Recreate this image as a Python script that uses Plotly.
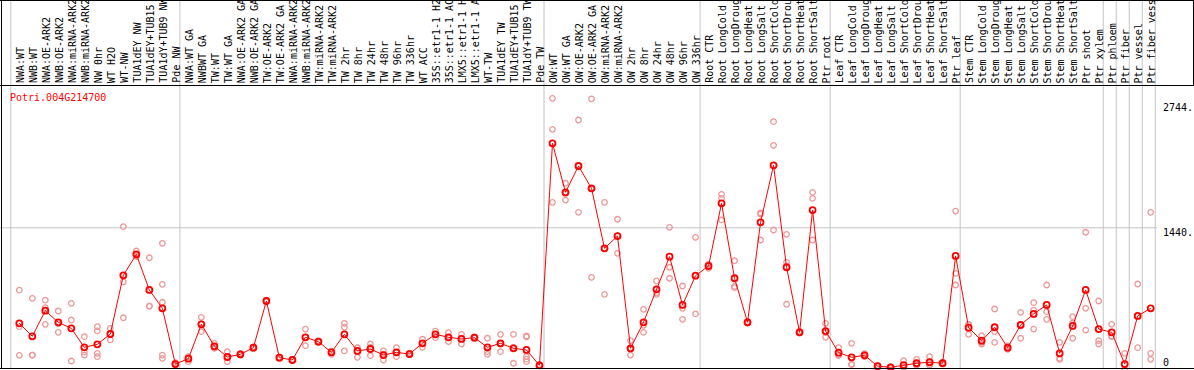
import plotly.graph_objects as go

gene_id = "Potri.004G214700"

categories = [
    "NWA:WT", "NWB:WT", "NWA:OE-ARK2", "NWB:OE-ARK2", "NWA:miRNA-ARK2", "NWB:miRNA-ARK2",
    "NW 0hr", "WT H2O", "WT-NW", "TUA1dEY NW", "TUA1dEY+TUB15 NW", "TUA1dY+TUB9 NW", "Pde NW",
    "NWA:WT GA", "NWBWT GA", "TW:WT", "TW:WT GA", "NWA:OE-ARK2 GA", "NWB:OE-ARK2 GA",
    "TW:OE-ARK2", "TW:OE-ARK2 GA", "NWA:miRNA-ARK2 GA", "NWB:miRNA-ARK2 GA", "TW:miRNA-ARK2",
    "TW:miRNA-ARK2 GA", "TW 2hr", "TW 8hr", "TW 24hr", "TW 48hr", "TW 96hr", "TW 336hr",
    "WT ACC", "35S::etr1-1 H2O", "35S::etr1-1 ACC", "LMX5::etr1-1 H2O", "LMX5::etr1-1 ACC",
    "WT-TW", "TUA1dEY TW", "TUA1dEY+TUB15 TW", "TUA1dY+TUB9 TW", "Pde TW",
    "OW:WT", "OW:WT GA", "OW:OE-ARK2", "OW:OE-ARK2 GA", "OW:miRNA-ARK2", "OW:miRNA-ARK2 GA",
    "OW 2hr", "OW 8hr", "OW 24hr", "OW 48hr", "OW 96hr", "OW 336hr",
    "Root CTR", "Root LongCold", "Root LongDrought", "Root LongHeat", "Root LongSalt",
    "Root ShortCold", "Root ShortDrought", "Root ShortHeat", "Root ShortSalt", "Ptr root",
    "Leaf CTR", "Leaf LongCold", "Leaf LongDrought", "Leaf LongHeat", "Leaf LongSalt",
    "Leaf ShortCold", "Leaf ShortDrought", "Leaf ShortHeat", "Leaf ShortSalt", "Ptr leaf",
    "Stem CTR", "Stem LongCold", "Stem LongDrought", "Stem LongHeat", "Stem LongSalt",
    "Stem ShortCold", "Stem ShortDrought", "Stem ShortHeat", "Stem ShortSalt", "Ptr shoot",
    "Ptr xylem", "Ptr phloem", "Ptr fiber", "Ptr vessel", "Ptr fiber vessel",
]

means = [
    477, 346, 604, 487, 426, 235, 265, 369, 961, 1172,
    813, 628, 66, 120, 467, 245, 137, 164, 231, 702,
    130, 107, 336, 292, 184, 366, 198, 218, 157, 184,
    167, 275, 366, 336, 319, 332, 235, 275, 225, 208,
    53, 2292, 1798, 2063, 1838, 1233, 1357, 225, 487, 820,
    1149, 662, 957, 1055, 1687, 931, 487, 1495, 2070, 1042,
    386, 1619, 399, 181, 134, 154, 45, 33, 56, 74,
    84, 74, 1156, 433, 302, 437, 231, 460, 571, 662,
    174, 450, 813, 419, 386, 66, 551, 628,
]

replicates = [
    [811, 443, 154], [729, 157, 155], [710, 635, 467], [601, 386, 474], [678, 510, 97],
    [342, 188, 157], [443, 400, 174, 140], [426, 309, 372], [1451, 896, 533], [1206, 1149, 1161],
    [1138, 650, 650], [1283, 870, 689, 157, 124], [80, 60, 58], [140, 90, 130], [537, 392, 472],
    [275, 225, 235], [191, 90, 130], [174, 160, 157], [240, 225, 228], [710, 700, 696],
    [135, 128, 127], [110, 105, 106], [419, 251, 338], [300, 285, 291], [164, 195, 193],
    [477, 437, 198], [231, 134, 229], [268, 150, 236], [198, 107, 166], [231, 140, 181],
    [175, 162, 164], [316, 235, 274], [399, 332, 367], [382, 292, 334], [366, 268, 323],
    [340, 330, 326], [326, 191, 164], [366, 191, 268], [366, 74, 235], [349, 340, 140, 115, 90],
    [60, 50, 48], [2746, 2433, 1697], [1889, 1720, 1785], [2527, 1596, 2066], [2741, 941, 1832],
    [1697, 769, 1233], [1526, 1183, 1362], [302, 157, 216], [618, 386, 457], [904, 769, 787],
    [1445, 1042, 931], [853, 628, 517], [1344, 571, 956], [1031, 1060, 1074], [1778, 1737, 1519],
    [1108, 836, 849], [495, 480, 486], [1579, 1317, 1589], [2510, 2272, 1418], [1374, 1092, 669],
    [398, 380, 380], [1798, 1737, 1317], [477, 336, 384], [231, 150, 162], [275, 66, 61],
    [170, 150, 142], [50, 42, 43], [38, 30, 31], [100, 35, 33], [114, 55, 53],
    [140, 60, 52], [85, 70, 67], [1609, 981, 863], [467, 366, 466], [352, 268, 286],
    [621, 393, 285], [250, 215, 228], [588, 326, 466], [685, 419, 609], [863, 594, 517],
    [285, 124, 113], [544, 326, 480], [1395, 628, 409], [702, 302, 268], [467, 342, 349],
    [174, 14, 10], [873, 231, 549], [1596, 174, 114],
]

group_last = [12, 40, 52, 62, 72, 83, 84, 85, 86, 87]
y_grid_value = 1440
y_labels = ["2744.", "1440.", "0"]

# ---------------- layout geometry ----------------
W, H = 1194, 370
TOP = 85
X_RANGE = [-1.484, 90.33]
Y_RANGE = [6, 2880]
PLOT_H = H - TOP


def py_to_paper(py):
    return (H - py) / PLOT_H


xs = list(range(len(categories)))

fig = go.Figure()

rep_x, rep_y = [], []
for i, vals in enumerate(replicates):
    for v in vals:
        rep_x.append(i)
        rep_y.append(v)

fig.add_trace(go.Scatter(
    x=rep_x, y=rep_y, mode="markers", cliponaxis=False, hoverinfo="skip",
    marker=dict(symbol="circle-open", size=5.5, color="rgb(238,152,152)",
                line=dict(width=1.3, color="rgb(238,152,152)")),
    showlegend=False,
))

fig.add_trace(go.Scatter(
    x=xs, y=means, mode="lines+markers", cliponaxis=False,
    line=dict(color="#ff0000", width=1),
    marker=dict(symbol="circle-open", size=6, color="#ff0000",
                line=dict(width=1.8, color="#ff0000")),
    showlegend=False,
))

shapes = []
grid_col = "#c4c4c4"
top_paper = py_to_paper(0.5)
bot_paper = py_to_paper(368.5)
for b in [-1] + group_last:
    shapes.append(dict(type="line", xref="x", yref="paper", x0=b + 0.35, x1=b + 0.35,
                       y0=bot_paper, y1=top_paper, line=dict(color=grid_col, width=1),
                       layer="below"))
shapes.append(dict(type="line", xref="paper", yref="y", x0=0, x1=1157 / W,
                   y0=y_grid_value, y1=y_grid_value, line=dict(color=grid_col, width=1),
                   layer="below"))
# frame lines
blk = dict(color="black", width=1)
shapes += [
    dict(type="line", xref="paper", yref="paper", x0=0, x1=1, y0=top_paper, y1=top_paper, line=blk),
    dict(type="line", xref="paper", yref="paper", x0=0, x1=1, y0=py_to_paper(85.5), y1=py_to_paper(85.5), line=blk),
    dict(type="line", xref="paper", yref="paper", x0=0, x1=1, y0=bot_paper, y1=bot_paper, line=blk),
    dict(type="line", xref="paper", yref="paper", x0=1.5 / W, x1=1.5 / W, y0=bot_paper, y1=top_paper, line=blk),
    dict(type="line", xref="paper", yref="paper", x0=1193.5 / W, x1=1193.5 / W,
         y0=py_to_paper(85.5), y1=top_paper, line=blk),
]

mono = "DejaVu Sans Mono"
annotations = []
for i, name in enumerate(categories):
    annotations.append(dict(
        x=i, xref="x", y=py_to_paper(84), yref="paper", text=name, textangle=-90,
        showarrow=False, xanchor="center", yanchor="bottom", borderpad=0, xshift=0.8,
        font=dict(family=mono, size=10, color="black"),
    ))

annotations.append(dict(
    x=9 / W, xref="paper", y=py_to_paper(97), yref="paper", text=gene_id,
    showarrow=False, xanchor="left", yanchor="middle", borderpad=0,
    font=dict(family=mono, size=10, color="#ff0000"),
))
for lab, pyv in zip(y_labels, [107, 232, 362]):
    annotations.append(dict(
        x=1162 / W, xref="paper", y=py_to_paper(pyv), yref="paper", text=lab,
        showarrow=False, xanchor="left", yanchor="middle", borderpad=0,
        font=dict(family=mono, size=10, color="black"),
    ))

fig.update_layout(
    width=W, height=H,
    margin=dict(l=0, r=0, t=TOP, b=0, pad=0),
    paper_bgcolor="white", plot_bgcolor="white",
    xaxis=dict(range=X_RANGE, visible=False, fixedrange=True),
    yaxis=dict(range=Y_RANGE, visible=False, fixedrange=True),
    shapes=shapes, annotations=annotations, showlegend=False,
)

fig.write_html(
    "out.html",
    config={"displayModeBar": False},
    post_script="document.body.style.margin='0';document.body.style.overflow='hidden';",
)
